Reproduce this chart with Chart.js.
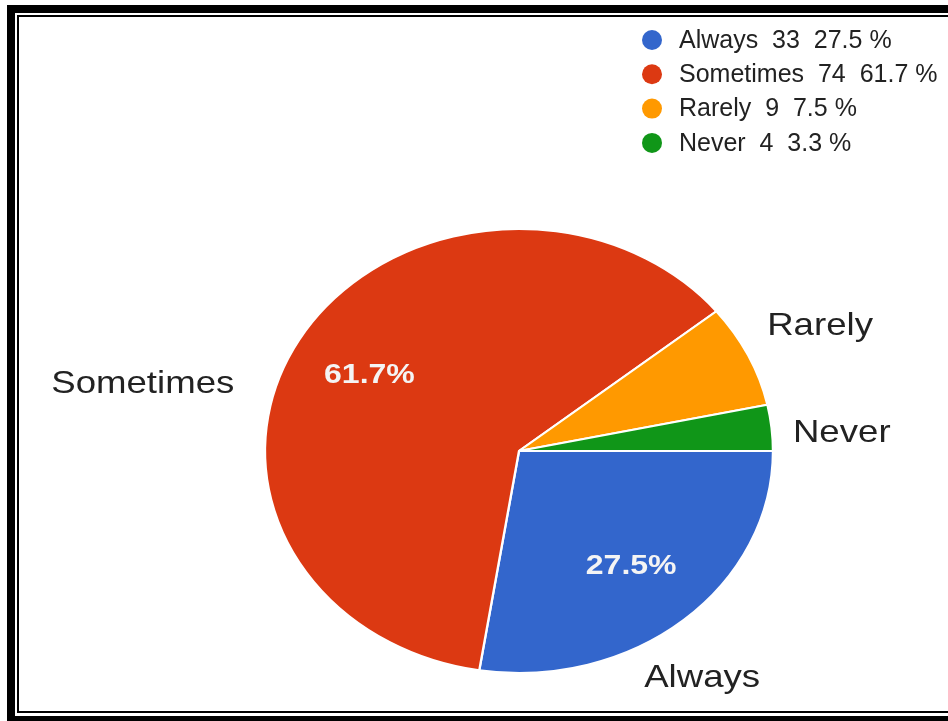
<!DOCTYPE html>
<html>
<head>
<meta charset="utf-8">
<script src="https://cdn.jsdelivr.net/npm/chart.js@4.4.1/dist/chart.umd.min.js"></script>
<style>
  html, body { margin: 0; padding: 0; background: #fff; overflow: hidden; }
  #wrap { position: relative; width: 948px; height: 721px; }
  .frameOuter { position: absolute; left: 7px; top: 5px; width: 1100px; height: 719px; border: 8px solid #000; box-sizing: border-box; }
  .frameInner { position: absolute; left: 17px; top: 15px; width: 1100px; height: 698px; border: 2px solid #000; box-sizing: border-box; }
  canvas { position: absolute; left: 0; top: 0; }
</style>
</head>
<body>
<div id="wrap">
  <div class="frameOuter"></div>
  <div class="frameInner"></div>
  <canvas id="pieChart" width="948" height="721"></canvas>
</div>
<script>
// data
const categories = ['Always', 'Sometimes', 'Rarely', 'Never'];
const counts = [33, 74, 9, 4];
const sliceColors = ['#3366cc', '#dc3912', '#ff9900', '#109618'];

const total = counts.reduce((a, b) => a + b, 0);
const percents = counts.map(v => (v / total * 100).toFixed(1));

const stretchX = 1.144;   // the picture is wider than tall
const labelShift = [[-30, 32], [-50, 62], [3, -14], [-1, 9]];

// squash the round pie into the same oval as the picture
const stretchPlugin = {
  id: 'stretch',
  beforeDatasetsDraw(chart) {
    const a = chart.chartArea;
    const cx = (a.left + a.right) / 2;
    const ctx = chart.ctx;
    ctx.save();
    ctx.translate(cx, 0);
    ctx.scale(stretchX, 1);
    ctx.translate(-cx, 0);
  },
  afterDatasetsDraw(chart) {
    chart.ctx.restore();
  }
};

const labelPlugin = {
  id: 'sliceLabels',
  afterDraw(chart) {
    const ctx = chart.ctx;
    const arcs = chart.getDatasetMeta(0).data;
    arcs.forEach((arc, i) => {
      const mid = (arc.startAngle + arc.endAngle) / 2;
      const c = Math.cos(mid), s = Math.sin(mid);
      const R = arc.outerRadius;
      ctx.save();
      ctx.translate(arc.x, arc.y);
      ctx.scale(stretchX, 1);
      ctx.textBaseline = 'middle';
      ctx.textAlign = 'center';

      // category name outside the pie
      ctx.font = '32px "Liberation Sans", Arial, sans-serif';
      ctx.fillStyle = '#222';
      const w = ctx.measureText(categories[i]).width;
      const d = R + 20;
      const lx = c * d + w / 2 * c + labelShift[i][0];
      const ly = s * d + 15 * s + labelShift[i][1];
      ctx.fillText(categories[i], lx, ly);

      // percentage inside the bigger slices
      if (percents[i] > 10) {
        ctx.font = 'bold 28px "Liberation Sans", Arial, sans-serif';
        ctx.fillStyle = '#f4f4f4';
        ctx.fillText(percents[i] + '%', c * R * 0.68, s * R * 0.68);
      }
      ctx.restore();
    });

    // legend in the top right corner
    ctx.save();
    ctx.font = '25px "Liberation Sans", Arial, sans-serif';
    ctx.textBaseline = 'middle';
    ctx.textAlign = 'left';
    categories.forEach((name, i) => {
      const y = 40 + i * 34.3;
      ctx.beginPath();
      ctx.arc(652, y, 10, 0, Math.PI * 2);
      ctx.fillStyle = sliceColors[i];
      ctx.fill();
      ctx.fillStyle = '#222';
      ctx.fillText(name + '  ' + counts[i] + '  ' + percents[i] + ' %', 679, y + 1);
    });
    ctx.restore();
  }
};

new Chart(document.getElementById('pieChart').getContext('2d'), {
  type: 'pie',
  data: {
    labels: categories,
    datasets: [{
      data: counts,
      backgroundColor: sliceColors,
      borderColor: '#ffffff',
      borderWidth: 2
    }]
  },
  options: {
    responsive: false,
    animation: false,
    events: [],
    rotation: 90,
    layout: { padding: { left: 296, right: 206, top: 228, bottom: 47 } },
    plugins: {
      legend: { display: false },
      tooltip: { enabled: false }
    }
  },
  plugins: [stretchPlugin, labelPlugin]
});
</script>
</body>
</html>
